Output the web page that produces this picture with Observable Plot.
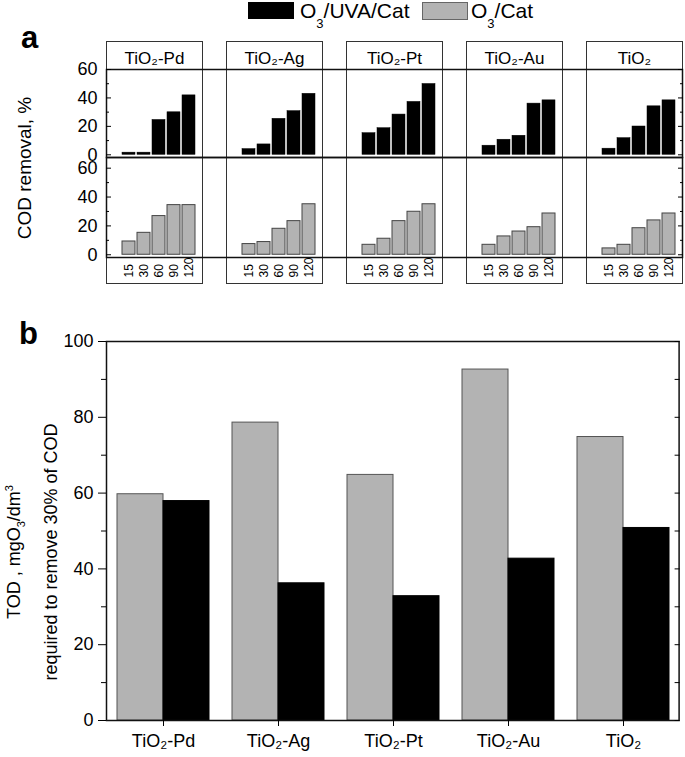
<!DOCTYPE html>
<html><head><meta charset="utf-8">
<script src="https://cdn.jsdelivr.net/npm/d3@7"></script>
<script src="https://cdn.jsdelivr.net/npm/@observablehq/plot@0.6"></script>
<style>
body{margin:0;background:#fff;font-family:"Liberation Sans",Arial,sans-serif;color:#000;}
#root{position:relative;width:685px;height:757px;overflow:hidden;}
.rot{position:absolute;transform:translate(-50%,-50%) rotate(-90deg);white-space:nowrap;text-align:center;}
svg [aria-label="y-axis tick label"], svg [aria-label="y-axis tick label"] text{font-size:18px !important;}
svg [aria-label="fx-axis tick label"], svg [aria-label="fx-axis tick label"] text{font-size:17px !important;}
.pb [aria-label="fx-axis tick label"], .pb [aria-label="fx-axis tick label"] text{font-size:18px !important;}
</style></head><body><div id="root"></div>
<script>
// ---------------- data ----------------
const catalysts = ["TiO₂-Pd", "TiO₂-Ag", "TiO₂-Pt", "TiO₂-Au", "TiO₂"];
const times = [15, 30, 60, 90, 120];
const seriesNames = ["O3/Cat", "O3/UVA/Cat"];

// panel a, COD removal (%), O3/UVA/Cat (top row)
const codUVA_Pd   = [1.5, 1.5, 24.5, 29.9, 41.8];
const codUVA_Ag   = [4.0, 7.3, 25.3, 30.7, 42.9];
const codUVA_Pt   = [15.2, 18.7, 28.3, 37.2, 49.8];
const codUVA_Au   = [6.4, 10.6, 13.4, 36.0, 38.3];
const codUVA_TiO2 = [4.3, 11.7, 19.9, 34.1, 38.3];
// panel a, COD removal (%), O3/Cat (bottom row)
const codO3_Pd   = [9.2, 15.2, 26.8, 34.4, 34.4];
const codO3_Ag   = [7.4, 8.8, 18.0, 23.3, 35.0];
const codO3_Pt   = [6.9, 11.1, 23.3, 29.8, 35.0];
const codO3_Au   = [6.9, 12.7, 16.1, 19.1, 28.6];
const codO3_TiO2 = [4.4, 6.9, 18.4, 23.8, 28.6];

// panel b, TOD required to remove 30% of COD
const todO3Cat  = [59.7, 78.6, 64.8, 92.6, 74.8];
const todUVACat = [57.9, 36.2, 32.8, 42.7, 50.8];

const ticksA = [0, 20, 40, 60];
const minorA = [10, 30, 50];
const ticksB = [0, 20, 40, 60, 80, 100];
const minorB = [10, 30, 50, 70, 90];

// ---------------- build tables ----------------
const uva = [codUVA_Pd, codUVA_Ag, codUVA_Pt, codUVA_Au, codUVA_TiO2];
const o3 = [codO3_Pd, codO3_Ag, codO3_Pt, codO3_Au, codO3_TiO2];
const topRows = catalysts.flatMap((c, i) => times.map((t, j) => ({cat: c, t, v: uva[i][j]})));
const botRows = catalysts.flatMap((c, i) => times.map((t, j) => ({cat: c, t, v: o3[i][j]})));
const bRows = catalysts.flatMap((c, i) => [
  {cat: c, series: seriesNames[0], v: todO3Cat[i]},
  {cat: c, series: seriesNames[1], v: todUVACat[i]}
]);

const FONT = "'Liberation Sans', Arial, sans-serif";
const GRAY = "#b3b3b3";
const root = document.getElementById("root");
const baseStyle = {fontFamily: FONT, fontSize: "16px", background: "transparent", overflow: "visible", color: "#000"};

function place(node, left, top) {
  node.style.position = "absolute";
  node.style.left = left + "px";
  node.style.top = top + "px";
  root.appendChild(node);
}

const fxA = {domain: catalysts, paddingInner: 0.2, paddingOuter: 0, label: null, axis: null};
const xA = {type: "band", domain: times, paddingInner: 0.15, paddingOuter: 0.775, align: 0.675, axis: null};

// ---------------- panel a, top row ----------------
const topPlot = Plot.plot({
  className: "pa",
  width: 685, height: 117, marginTop: 29, marginBottom: 0, marginLeft: 105, marginRight: 2,
  style: baseStyle,
  fx: fxA, x: xA,
  y: {domain: [-1.9, 60], axis: null},
  marks: [
    Plot.frame({insetTop: -28, stroke: "#333", strokeWidth: 1}),
    Plot.barY(topRows, {fx: "cat", x: "t", y: "v", fill: "#000", stroke: "#000", strokeWidth: 0.5}),
    Plot.frame({facet: "super", stroke: "#111", strokeWidth: 1.5}),
    Plot.axisFx({anchor: "top", tickSize: 0, tickPadding: 6, label: null, fontSize: 17}),
    Plot.axisY({anchor: "left", ticks: ticksA, tickSize: 0, tickPadding: 9, label: null, fontSize: 18}),
    Plot.axisY({anchor: "left", ticks: ticksA, tickSize: -5, tickFormat: () => "", label: null}),
    Plot.axisY({anchor: "left", ticks: minorA, tickSize: -3, tickFormat: () => "", label: null}),
    Plot.axisY({anchor: "right", ticks: ticksA, tickSize: -5, tickFormat: () => "", label: null}),
    Plot.axisY({anchor: "right", ticks: minorA, tickSize: -3, tickFormat: () => "", label: null})
  ]
});
place(topPlot, 0, 40);

// ---------------- panel a, bottom row ----------------
const botPlot = Plot.plot({
  className: "pa",
  width: 685, height: 127, marginTop: 0, marginBottom: 27, marginLeft: 105, marginRight: 2,
  style: baseStyle,
  fx: fxA, x: xA,
  y: {domain: [-1.9, 67.4], axis: null},
  marks: [
    Plot.frame({insetBottom: -26, stroke: "#333", strokeWidth: 1}),
    Plot.barY(botRows, {fx: "cat", x: "t", y: "v", fill: GRAY, stroke: "#444", strokeWidth: 1}),
    Plot.frame({facet: "super", stroke: "#111", strokeWidth: 1.5}),
    Plot.text(botRows, {fx: "cat", x: "t", text: d => String(d.t), frameAnchor: "bottom", dy: 20,
      rotate: -90, textAnchor: "start", lineAnchor: "middle", fontSize: 12}),
    Plot.axisY({anchor: "left", ticks: ticksA, tickSize: 0, tickPadding: 9, label: null, fontSize: 18}),
    Plot.axisY({anchor: "left", ticks: ticksA, tickSize: -5, tickFormat: () => "", label: null}),
    Plot.axisY({anchor: "left", ticks: minorA, tickSize: -3, tickFormat: () => "", label: null}),
    Plot.axisY({anchor: "right", ticks: ticksA, tickSize: -5, tickFormat: () => "", label: null}),
    Plot.axisY({anchor: "right", ticks: minorA, tickSize: -3, tickFormat: () => "", label: null})
  ]
});
place(botPlot, 0, 157);

// ---------------- panel b ----------------
const bPlot = Plot.plot({
  className: "pb",
  width: 685, height: 437, marginTop: 21, marginBottom: 37, marginLeft: 116, marginRight: 15.6,
  style: baseStyle,
  fx: {domain: catalysts, paddingInner: 0.2, paddingOuter: 0, label: null, axis: null},
  x: {domain: seriesNames, padding: 0, axis: null},
  y: {domain: [0, 100], axis: null},
  color: {domain: seriesNames, range: [GRAY, "#000"]},
  marks: [
    Plot.barY(bRows, {fx: "cat", x: "series", y: "v", fill: "series", stroke: d => d.series === seriesNames[0] ? "#555" : "#000", strokeWidth: 1}),
    Plot.frame({facet: "super", insetLeft: -11, insetRight: -9.6, stroke: "#111", strokeWidth: 1.5}),
    Plot.axisFx({anchor: "bottom", tickSize: 6, tickPadding: 8, label: null, fontSize: 18}),
    Plot.axisY({anchor: "left", ticks: ticksB, tickSize: 8, tickPadding: 5, dx: -11, label: null, fontSize: 18}),
    Plot.axisY({anchor: "left", ticks: minorB, tickSize: 5, tickFormat: () => "", dx: -11, label: null}),
    Plot.axisY({anchor: "right", ticks: ticksB.concat(minorB), tickSize: -5, tickFormat: () => "", dx: 9.6, label: null})
  ]
});
place(bPlot, 0, 320);

// ---------------- texts & legend ----------------
function html(s, left, top, css) {
  const d = document.createElement("div");
  d.innerHTML = s;
  d.style.cssText = "position:absolute;left:" + left + "px;top:" + top + "px;" + (css || "");
  root.appendChild(d);
  return d;
}
// legend
html("", 248, 2, "width:46px;height:17px;background:#000;");
html("O<span style='font-size:13px;position:relative;top:10px'>3</span>/UVA/Cat", 300, 0, "font-size:21px;line-height:21px;white-space:nowrap;");
html("", 422, 2, "width:44px;height:16px;background:" + GRAY + ";border:1px solid #666;");
html("O<span style='font-size:13px;position:relative;top:10px'>3</span>/Cat", 471, 0, "font-size:21px;line-height:21px;white-space:nowrap;");
// panel letters
html("a", 21, 22, "font-size:31px;line-height:31px;font-weight:bold;");
html("b", 19, 318, "font-size:31px;line-height:31px;font-weight:bold;");
// y labels
const la = document.createElement("div");
la.className = "rot";
la.style.cssText += "left:25px;top:168px;font-size:19px;";
la.textContent = "COD removal, %";
root.appendChild(la);
const lb = document.createElement("div");
lb.className = "rot";
lb.style.cssText += "left:30px;top:552px;font-size:18px;line-height:30px;";
lb.innerHTML = "TOD , mgO<sub style='font-size:11px'>3</sub>/dm<sup style='font-size:11px'>3</sup><br>required to remove 30% of COD";
root.appendChild(lb);
</script>
</body></html>
